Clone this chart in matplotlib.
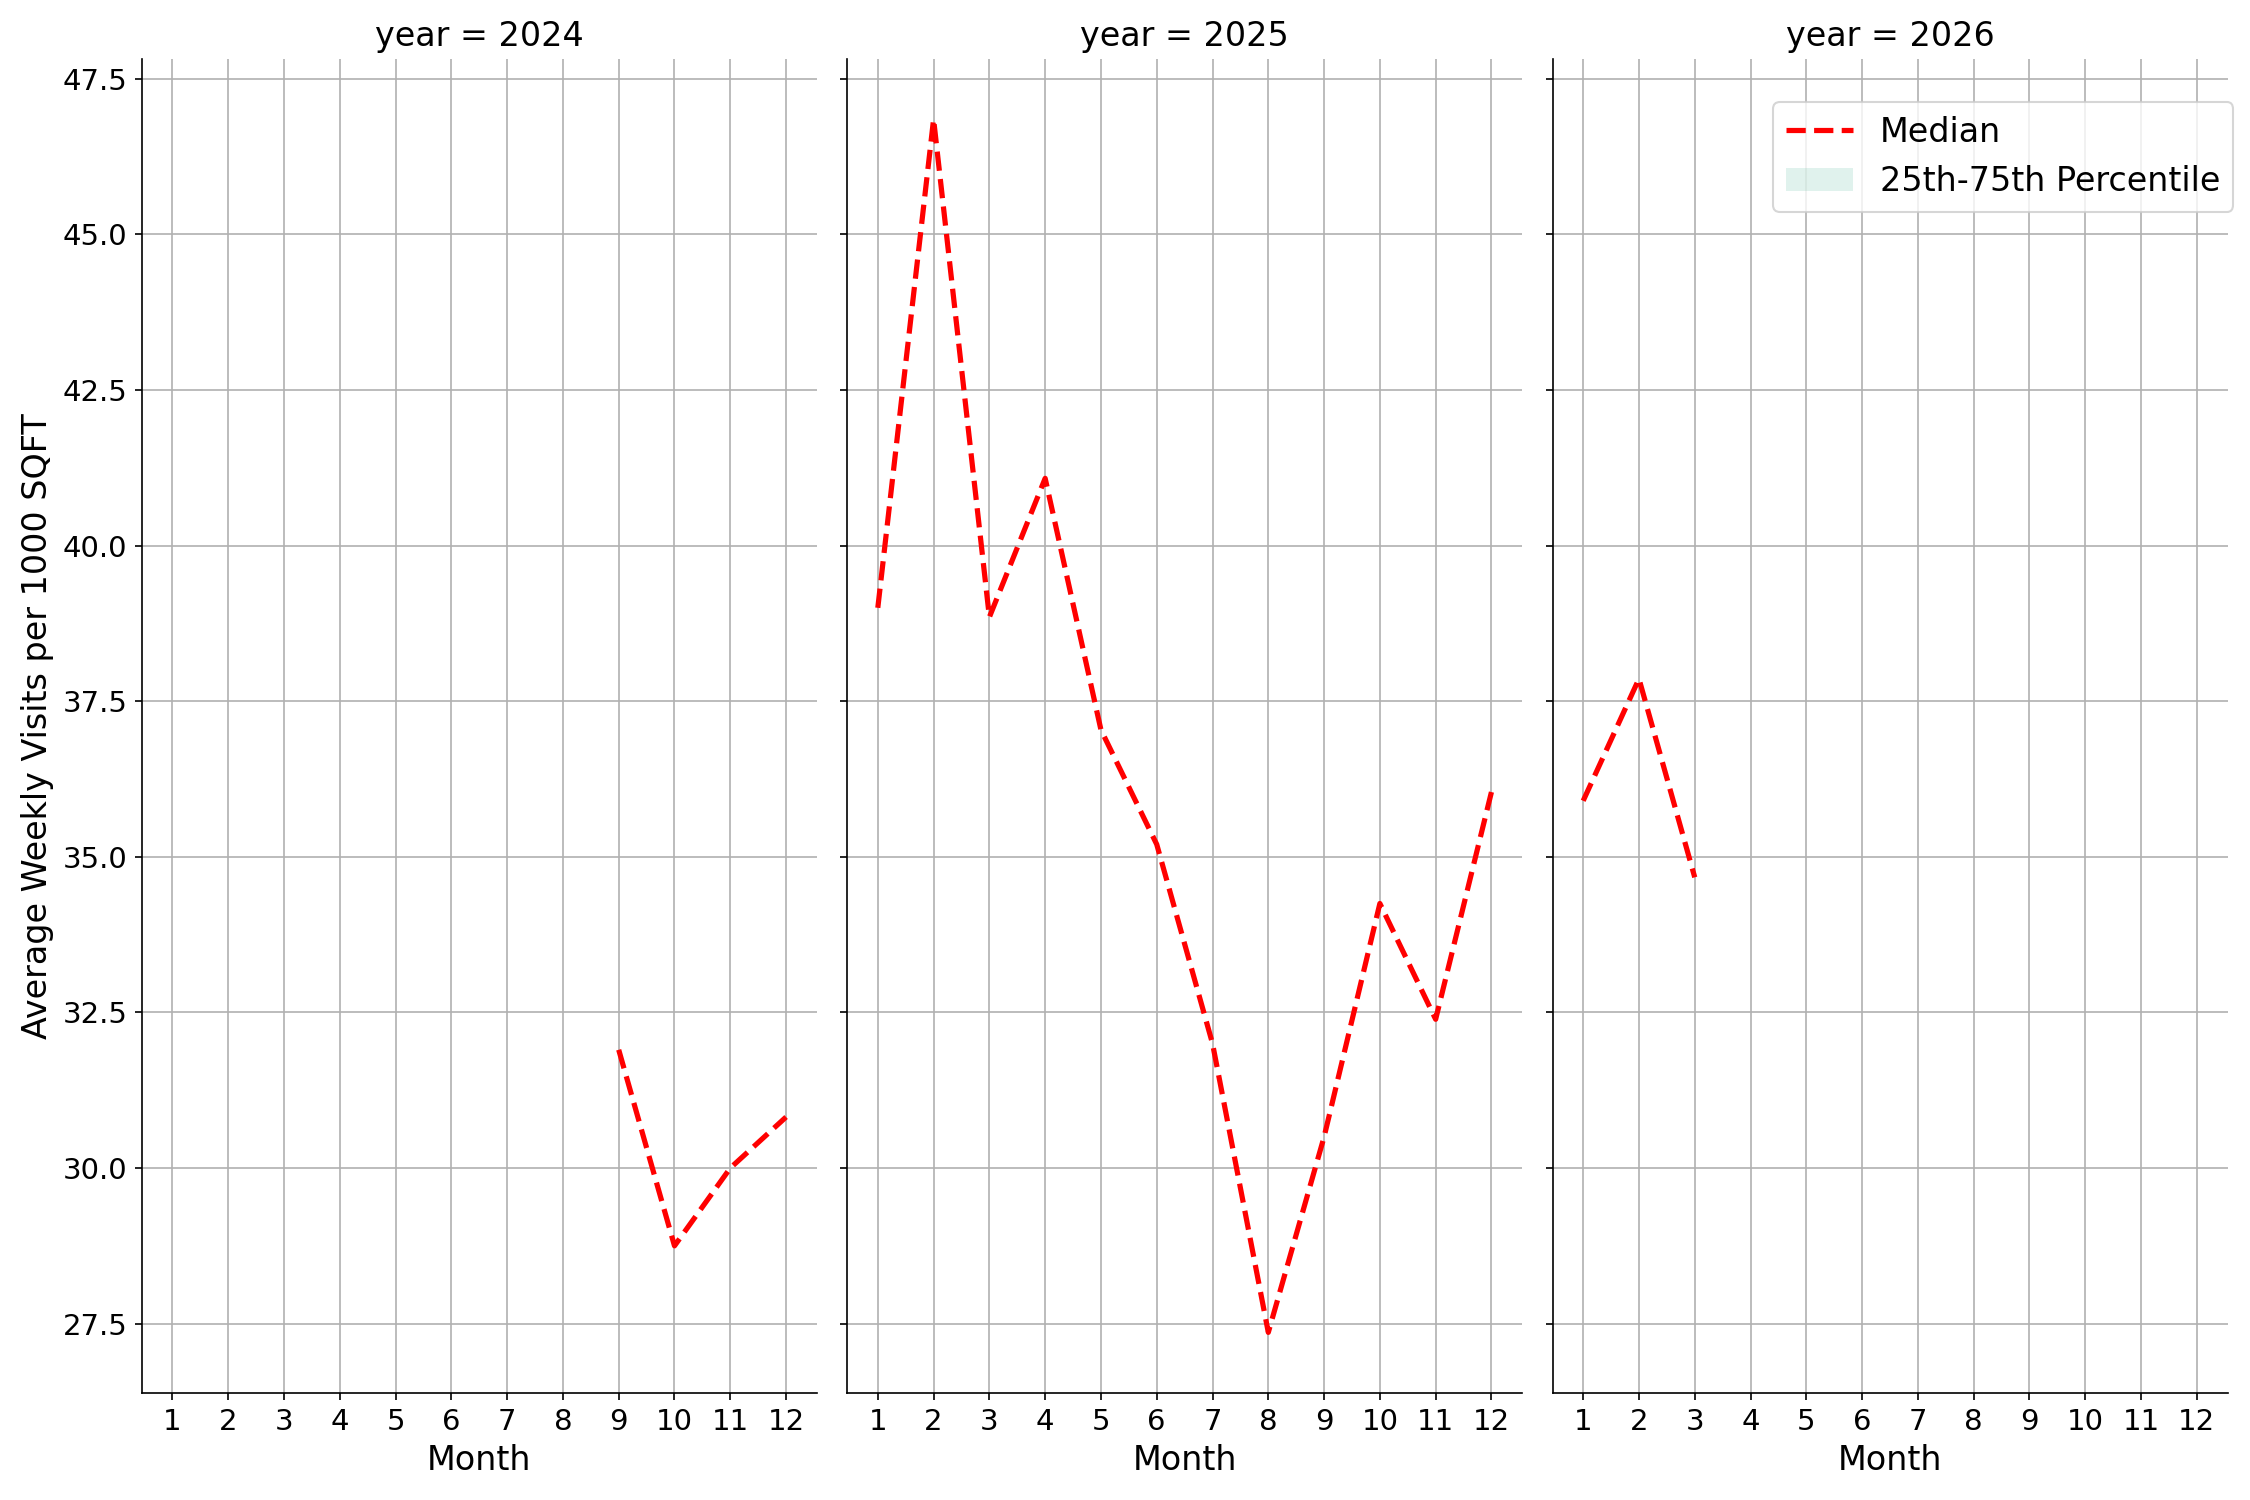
import numpy as np
import matplotlib.pyplot as plt
from matplotlib.patches import Patch

# median average weekly visits per 1000 sqft, by month
years = [2024, 2025, 2026]
months_2024 = [9, 10, 11, 12]
median_2024 = [31.9, 28.75, 30.0, 30.82]
months_2025 = [1, 2, 3, 4, 5, 6, 7, 8, 9, 10, 11, 12]
median_2025 = [39.0, 46.85, 38.85, 41.08, 37.04, 35.2, 32.0, 27.36, 30.5, 34.25, 32.39, 36.04]
months_2026 = [1, 2, 3]
median_2026 = [35.9, 37.86, 34.67]

month_ticks = list(range(1, 13))

data = {
    2024: (months_2024, median_2024),
    2025: (months_2025, median_2025),
    2026: (months_2026, median_2026),
}

fig, axes = plt.subplots(1, 3, figsize=(15, 10), dpi=150, sharex=True, sharey=True)
fig.subplots_adjust(left=0.063, right=0.99, top=0.961, bottom=0.0713, wspace=0.045)

for ax, year in zip(axes, years):
    months, med = data[year]
    ax.plot(months, med, color='red', linestyle='--', linewidth=2.5, label='Median')
    ax.set_title(f'year = {year}', fontsize=16)
    ax.set_xlabel('Month', fontsize=16)
    ax.set_xticks(month_ticks)
    ax.tick_params(labelsize=14)
    ax.grid(True)
    ax.spines['top'].set_visible(False)
    ax.spines['right'].set_visible(False)

axes[0].set_ylabel('Average Weekly Visits per 1000 SQFT', fontsize=16)

handles = [
    plt.Line2D([], [], color='red', linestyle='--', linewidth=2.5),
    Patch(facecolor='#66c2a5', alpha=0.2, edgecolor='none'),
]
fig.legend(handles, ['Median', '25th-75th Percentile'], loc='upper right',
           bbox_to_anchor=(1.0, 0.943), fontsize=16)

plt.savefig('out.png')
